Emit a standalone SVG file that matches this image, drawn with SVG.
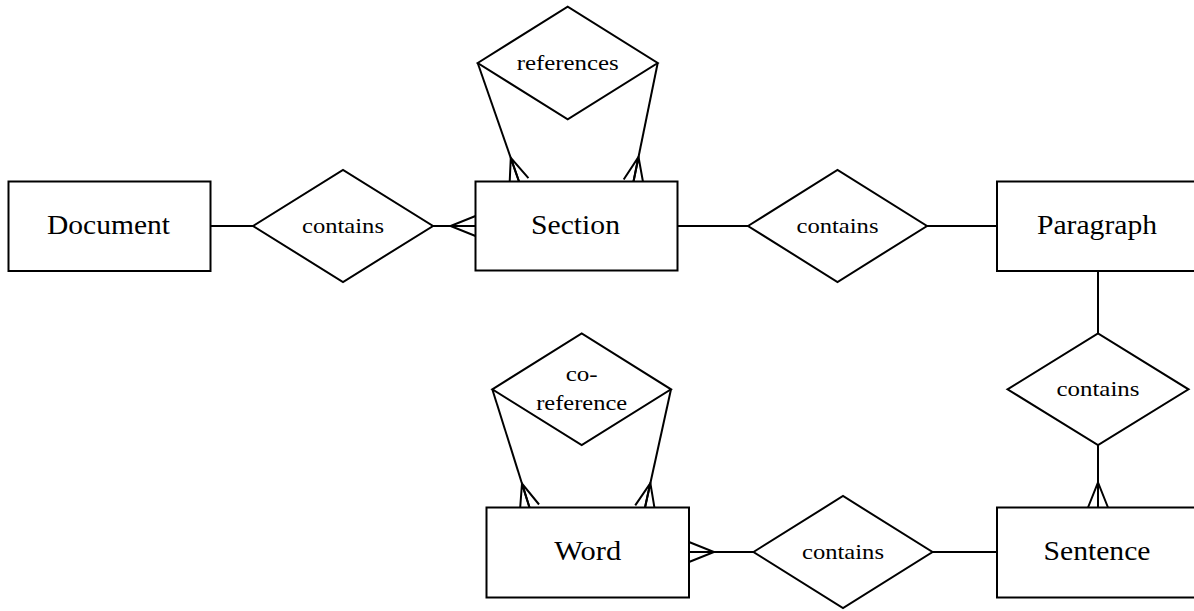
<svg xmlns="http://www.w3.org/2000/svg" width="1194" height="611" viewBox="0 0 1194 611">
  <style>
    .entity { fill: #ffffff; stroke: #000000; stroke-width: 2; }
    .rel { fill: #ffffff; stroke: #000000; stroke-width: 2; stroke-linejoin: miter; }
    .edge { fill: none; stroke: #000000; stroke-width: 2; }
    text { font-family: 'Liberation Serif', 'DejaVu Serif', serif; fill: #000000; text-anchor: middle; }
    .elabel { font-size: 27px; }
    .rlabel { font-size: 22px; }
  </style>
  <defs>
    <!-- crow's foot ("many") end, drawn along the line direction -->
    <marker id="many" markerUnits="userSpaceOnUse" viewBox="-2 -12 30 24" refX="25" refY="0" markerWidth="30" markerHeight="24" orient="auto" overflow="visible">
      <path d="M25,-10 L0,0 L25,10 M0,0 L25,0" fill="none" stroke="#000000" stroke-width="2"/>
    </marker>
  </defs>

  <rect width="1194" height="611" fill="#ffffff"/>

  <g id="connectors">
    <line class="edge" x1="210.5" y1="226" x2="253" y2="226"/>
    <line class="edge" x1="433" y1="226" x2="475.5" y2="226" marker-end="url(#many)"/>
    <line class="edge" x1="677.5" y1="226" x2="748" y2="226"/>
    <line class="edge" x1="927" y1="226" x2="997" y2="226"/>
    <line class="edge" x1="1098" y1="271" x2="1098" y2="333.5"/>
    <line class="edge" x1="1098" y1="445" x2="1098" y2="507.5" marker-end="url(#many)"/>
    <line class="edge" x1="997" y1="552" x2="932.5" y2="552"/>
    <line class="edge" x1="753.5" y1="552" x2="689" y2="552" marker-end="url(#many)"/>
    <line class="edge" x1="477.7" y1="63" x2="519" y2="181.5" marker-end="url(#many)"/>
    <line class="edge" x1="657.7" y1="63" x2="633.5" y2="181.5" marker-end="url(#many)"/>
    <line class="edge" x1="492.3" y1="389.3" x2="529.5" y2="507.5" marker-end="url(#many)"/>
    <line class="edge" x1="671" y1="389.3" x2="645" y2="507.5" marker-end="url(#many)"/>
  </g>

  <g id="document">
    <rect class="entity" x="8.5" y="181.5" width="202" height="89.5"/>
    <text class="elabel" x="108.5" y="234" textLength="123" lengthAdjust="spacingAndGlyphs">Document</text>
  </g>

  <g id="contains-document-section">
    <polygon class="rel" points="253,226 343,170 433,226 343,282"/>
    <text class="rlabel" x="343" y="232.5" textLength="82" lengthAdjust="spacingAndGlyphs">contains</text>
  </g>

  <g id="section">
    <rect class="entity" x="475.5" y="181.5" width="202" height="89"/>
    <text class="elabel" x="575.5" y="233.5" textLength="89" lengthAdjust="spacingAndGlyphs">Section</text>
  </g>

  <g id="references">
    <polygon class="rel" points="477.7,63 567.7,6.7 657.7,63 567.7,119.3"/>
    <text class="rlabel" x="567.7" y="70" textLength="102" lengthAdjust="spacingAndGlyphs">references</text>
  </g>

  <g id="contains-section-paragraph">
    <polygon class="rel" points="748,226 837.5,170 927,226 837.5,282"/>
    <text class="rlabel" x="837.5" y="232.5" textLength="82" lengthAdjust="spacingAndGlyphs">contains</text>
  </g>

  <g id="paragraph">
    <rect class="entity" x="997" y="181.5" width="202" height="89.5"/>
    <text class="elabel" x="1097" y="234" textLength="120" lengthAdjust="spacingAndGlyphs">Paragraph</text>
  </g>

  <g id="contains-paragraph-sentence">
    <polygon class="rel" points="1007.5,389.3 1098,333.5 1188.5,389.3 1098,445"/>
    <text class="rlabel" x="1098" y="395.8" textLength="83" lengthAdjust="spacingAndGlyphs">contains</text>
  </g>

  <g id="sentence">
    <rect class="entity" x="997" y="507.5" width="202" height="90"/>
    <text class="elabel" x="1097" y="560" textLength="107" lengthAdjust="spacingAndGlyphs">Sentence</text>
  </g>

  <g id="contains-sentence-word">
    <polygon class="rel" points="753.5,552 843,496 932.5,552 843,608"/>
    <text class="rlabel" x="843" y="558.5" textLength="82" lengthAdjust="spacingAndGlyphs">contains</text>
  </g>

  <g id="word">
    <rect class="entity" x="486.5" y="507.5" width="202.5" height="90"/>
    <text class="elabel" x="587.7" y="559.5" textLength="67" lengthAdjust="spacingAndGlyphs">Word</text>
  </g>

  <g id="co-reference">
    <polygon class="rel" points="492.3,389.3 581.7,333.5 671,389.3 581.7,445"/>
    <text class="rlabel" x="581.7" y="381" textLength="32" lengthAdjust="spacingAndGlyphs">co-</text>
    <text class="rlabel" x="581.7" y="409.5" textLength="91" lengthAdjust="spacingAndGlyphs">reference</text>
  </g>
</svg>
